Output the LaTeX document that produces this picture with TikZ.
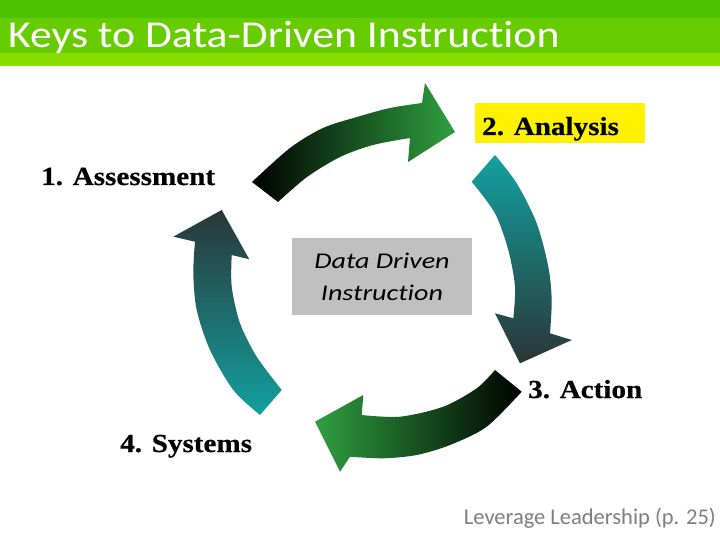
\documentclass[tikz,border=0pt]{standalone}
\usepackage{fontspec}
\newfontfamily\titlefont[FakeStretch=1.15,Ligatures=NoCommon]{Carlito}
\newfontfamily\boxfont[FakeStretch=1.25,Ligatures=NoCommon]{Carlito}
\newfontfamily\footfont[Ligatures=NoCommon]{Carlito}
\newfontfamily\labelfont[FakeStretch=1.12,BoldFeatures={FakeBold=0.6}]{Liberation Serif}
\definecolor{gA}{HTML}{4CC200}
\definecolor{gB}{HTML}{66CC00}
\definecolor{gC}{HTML}{88DC00}
\definecolor{agreen}{HTML}{2EA040}
\definecolor{ateal}{HTML}{12A0A0}
\definecolor{ateamid}{HTML}{3A8484}
\definecolor{adark}{HTML}{2A3636}
\definecolor{amid}{HTML}{5E6862}
\definecolor{boxgray}{HTML}{C0C0C0}
\definecolor{footgray}{HTML}{7F7F7F}
\tikzset{
  lbl/.style={anchor=base west, inner sep=0pt, font=\labelfont\bfseries\fontsize{26}{30}\selectfont},
}
\begin{document}
\begin{tikzpicture}[x=1pt,y=-1pt]
\useasboundingbox (0,0) rectangle (720,540);
\fill[white] (0,0) rectangle (720,540);
% title bar
\fill[gA] (0,0) rectangle (720,18);
\fill[gB] (0,18) rectangle (720,53);
\fill[gC] (0,53) rectangle (720,66);
\node[anchor=base west, inner sep=0pt, text=white, font=\titlefont\fontsize{38}{44}\selectfont] (title) at (8,48) {Keys to Data-Driven Instruction};
% top arrow
\shade[left color=black, middle color=amid, right color=agreen]
  (252,182) -- plot[smooth] coordinates {(252,182) (290,148) (323,128) (357,117) (390,108) (422,103)}
  -- (425,83) -- (455,132) -- (408,162) -- (410,138)
  -- plot[smooth] coordinates {(410,138) (373,145) (340,157) (307,177) (278,202)} -- cycle;
% right arrow
\shade[top color=ateal, middle color=ateamid, bottom color=adark]
  (495,155) -- plot[smooth] coordinates {(495,155) (516.7,183.3) (536.7,223.3) (548.3,266.7) (551.7,300) (550,333.3)}
  -- (571.7,340) -- (520,363.3) -- (495,313.3) -- (513.3,318.3)
  -- plot[smooth] coordinates {(513.3,318.3) (515,286.7) (508.3,250) (495,213.3) (471.7,181.7)} -- cycle;
% bottom arrow
\shade[left color=agreen, middle color=amid, right color=black]
  (521.7,391.7) -- plot[smooth] coordinates {(521.7,391.7) (486.7,426.7) (450,445) (416.7,455) (383.3,458.3) (350,456.7)}
  -- (340,471.7) -- (315,421.7) -- (363.3,395) -- (361.7,415)
  -- plot[smooth] coordinates {(361.7,415) (400,416.7) (443.3,406.7) (476.7,388.3) (495,370)} -- cycle;
% left arrow
\shade[top color=adark, middle color=ateamid, bottom color=ateal]
  (260,415) -- plot[smooth] coordinates {(260,415) (233.3,390) (210,350) (196.7,310) (193.3,273.3) (195,241.7)}
  -- (173.3,236.7) -- (221.7,210) -- (249.3,259.3) -- (231.7,255)
  -- plot[smooth] coordinates {(231.7,255) (231.7,286.7) (240,323.3) (256.7,356.7) (281.7,390)} -- cycle;
% center box
\node[fill=boxgray, minimum width=180pt, minimum height=77pt, inner sep=0pt, align=center,
      font=\boxfont\itshape\fontsize{22.5}{32}\selectfont] (ddi) at (382,276.5) {Data Driven\\Instruction};
% labels
\node[lbl] (l1) at (41,185) {1. Assessment};
\fill[yellow] (475,103) rectangle (645,143);
\node[lbl] (l2) at (482,135) {2. Analysis};
\node[lbl] (l3) at (528,398) {3. Action};
\node[lbl] (l4) at (120,452) {4. Systems};
% footer
\node[anchor=base east, inner sep=0pt, text=footgray, font=\footfont\fontsize{22.5}{26}\selectfont] (foot) at (716,524) {Leverage Leadership (p. 25)};
\end{tikzpicture}
\end{document}
